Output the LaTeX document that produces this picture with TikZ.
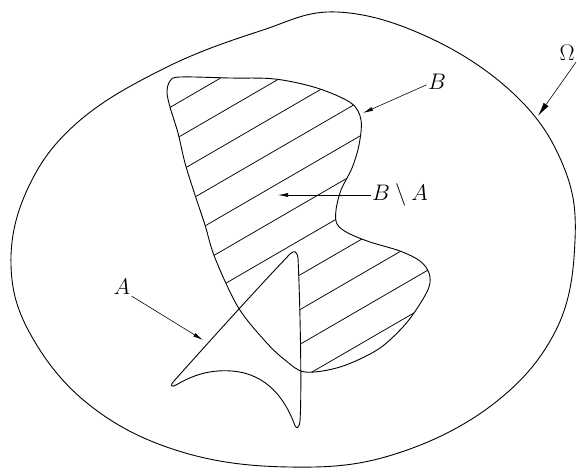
\RequirePackage{fix-cm}
\documentclass[tikz,border=0pt]{standalone}
\usetikzlibrary{arrows.meta}
\begin{document}
\begin{tikzpicture}[x=1pt, y=-1pt, line width=0.9pt,
    lbl/.style={inner sep=1pt, font=\fontsize{22.5}{25}\selectfont},
    pointer/.style={-{Latex[length=10pt,width=4pt]}, line width=0.6pt},
    hatch/.style={line width=0.75pt}]
    \useasboundingbox (0,0) rectangle (577,472);

    % Outline of the sets
    \def\pathB{plot[smooth cycle, tension=0.55] coordinates {(167,92) (170,81) (180,77) (230,78) (275,79) (317,88) (351,103) (361,120) (359,145) (352,168) (341,190) (336,210) (337,224) (348,233) (370,242) (400,251) (420,261) (429,273) (429,287) (418,307) (402,328) (377,350) (340,367) (305,372) (285,360) (265,341) (238,307) (215,258) (205,225) (195,195) (185,163) (178,133) (170,107)}}
    \def\pathA{(174,381) .. controls (215,335) and (265,280) .. (290,254) .. controls (294,250) and (297,251) .. (298,258) .. controls (300,300) and (302,390) .. (300,421) .. controls (299,429) and (296,430) .. (294,423) .. controls (285,400) and (268,374) .. (232,371) .. controls (206,369) and (188,378) .. (176,385) .. controls (171,388) and (170,385) .. cycle}

    % Omega
    \draw plot[smooth cycle, tension=0.65] coordinates {(337,12) (430,38) (515,95) (563,165) (575,240) (556,330) (492,405) (392,455) (290,467) (182,452) (92,407) (32,337) (11,265) (28,188) (78,122) (165,68) (260,31)};

    % Hatching of B \ A
    \begin{scope}
        \clip \pathB;
        \foreach \k in {0,...,10}
            \draw[hatch] (150,{206+34.7*\k-0.58*150}) -- (450,{206+34.7*\k-0.58*450});
    \end{scope}
    \fill[white] \pathA;

    \draw \pathB;
    \draw \pathA;

    % Labels
    \node[lbl] (omega) at (567,53) {$\Omega$};
    \node[lbl] (labelB) at (437,82) {$B$};
    \node[lbl] (labelBA) at (400,195) {$B\setminus A$};
    \node[lbl] (labelA) at (122,287) {$A$};
    \coordinate (omegaPt) at (538,116);
    \coordinate (bPt) at (363,113);
    \coordinate (baPt) at (278,195);
    \coordinate (aPt) at (203,340);

    \draw[pointer, -{Latex[length=14pt,width=6pt]}] (omega.south east) -- (omegaPt);
    \draw[pointer] (labelB.195) -- (bPt);
    \draw[pointer] (labelBA.west) -- (baPt);
    \draw[pointer] (labelA.south east) -- (aPt);
\end{tikzpicture}
\end{document}
